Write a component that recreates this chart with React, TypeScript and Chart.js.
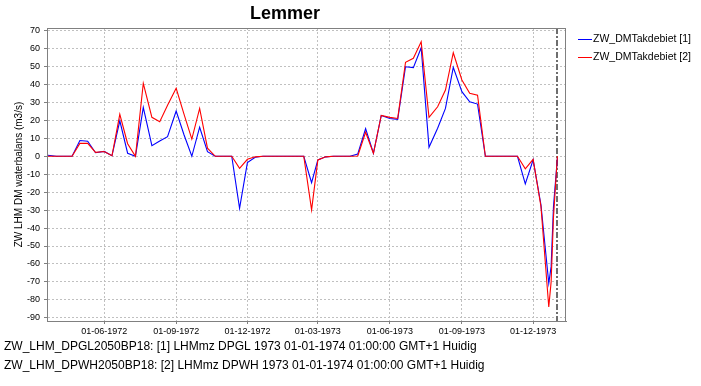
import React, { useEffect, useRef } from "react";
import { Chart, registerables } from "chart.js";

Chart.register(...registerables);

const TITLE = "Lemmer";
const Y_TITLE = "ZW LHM DM waterbalans (m3/s)";
const SERIES_NAMES = ["ZW_DMTakdebiet [1]", "ZW_DMTakdebiet [2]"];
const SERIES_COLORS = ["#0000ff", "#ff0000"];
const FOOTNOTES = [
  "ZW_LHM_DPGL2050BP18: [1] LHMmz DPGL 1973 01-01-1974 01:00:00 GMT+1 Huidig",
  "ZW_LHM_DPWH2050BP18: [2] LHMmz DPWH 1973 01-01-1974 01:00:00 GMT+1 Huidig",
];

const DATES = [
  "1972-03-21", "1972-04-01", "1972-04-11", "1972-04-21", "1972-05-01", "1972-05-11", "1972-05-21",
  "1972-06-01", "1972-06-11", "1972-06-21", "1972-07-01", "1972-07-11", "1972-07-21",
  "1972-08-01", "1972-08-11", "1972-08-21", "1972-09-01", "1972-09-11", "1972-09-21",
  "1972-10-01", "1972-10-11", "1972-10-21", "1972-11-01", "1972-11-11", "1972-11-21",
  "1972-12-01", "1972-12-11", "1972-12-21", "1973-01-01", "1973-01-11", "1973-01-21",
  "1973-02-01", "1973-02-11", "1973-02-21", "1973-03-01", "1973-03-11", "1973-03-21",
  "1973-04-01", "1973-04-11", "1973-04-21", "1973-05-01", "1973-05-11", "1973-05-21",
  "1973-06-01", "1973-06-11", "1973-06-21", "1973-07-01", "1973-07-11", "1973-07-21",
  "1973-08-01", "1973-08-11", "1973-08-21", "1973-09-01", "1973-09-11", "1973-09-21",
  "1973-10-01", "1973-10-11", "1973-10-21", "1973-11-01", "1973-11-11", "1973-11-21",
  "1973-12-01", "1973-12-11", "1973-12-21", "1973-12-24", "1973-12-27", "1974-01-01",
];

const TAKDEBIET_1 = [
  0.6, 0, 0, 0, 8.8, 8.4, 2.0,
  2.7, 0.3, 19.8, 1.7, 0, 27.3,
  5.9, 8.5, 10.9, 25.2, 12.0, 0,
  16.2, 2.6, 0, 0, 0, -29.0,
  -3.5, -0.5, 0, 0, 0, 0,
  0, 0, -14.7, -2.0, -0.3, 0,
  0, 0, 1.3, 15.4, 1.7, 22.8,
  21.1, 20.6, 49.9, 49.4, 60.5, 5.0,
  15.6, 26.7, 49.6, 36.0, 30.4, 29.1,
  0, 0, 0, 0, 0, -15.4,
  -2.0, -27.0, -70.8, -61.5, -28.0, -1.0,
];

const TAKDEBIET_2 = [
  0, 0, 0, 0, 7.2, 7.2, 2.2,
  2.7, 0.3, 23.4, 7.0, 0, 40.7,
  21.7, 19.3, 28.5, 37.9, 23.5, 9.6,
  26.7, 4.5, 0, 0, 0, -6.7,
  -1.7, -0.3, 0, 0, 0, 0,
  0, 0, -29.9, -2.0, -0.3, 0,
  0, 0, 0.2, 13.4, 1.7, 22.8,
  21.7, 21.1, 52.4, 54.6, 63.8, 21.7,
  27.6, 36.9, 57.7, 42.5, 35.1, 34.0,
  0, 0, 0, 0, 0, -7.0,
  -1.7, -28.0, -84.0, -70.0, -34.0, 0,
];

const X_TICK_DATES = ["1972-06-01", "1972-09-01", "1972-12-01", "1973-03-01", "1973-06-01", "1973-09-01", "1973-12-01"];
const X_TICK_LABELS = ["01-06-1972", "01-09-1972", "01-12-1972", "01-03-1973", "01-06-1973", "01-09-1973", "01-12-1973"];
const Y_TICKS = [-90, -80, -70, -60, -50, -40, -30, -20, -10, 0, 10, 20, 30, 40, 50, 60, 70];
const X_MIN_DATE = "1972-03-20";
const X_MAX_DATE = "1974-01-12";
const NOW_DATE = "1974-01-01";
const Y_MIN = -91.8;
const Y_MAX = 71.5;

const FONT = "'Liberation Sans', Arial, sans-serif";
const W = 701;
const H = 386;

const DAY_MS = 86400000;
const ORIGIN = Date.UTC(1972, 5, 1);
function dayNum(s: string): number {
  const [y, m, d] = s.split("-").map(Number);
  return (Date.UTC(y, m - 1, d) - ORIGIN) / DAY_MS;
}

const decorPlugin = {
  id: "decor",
  beforeDatasetsDraw(chart: any) {
    const { ctx, chartArea: a, scales } = chart;
    const x = Math.round(scales.x.getPixelForValue(dayNum(NOW_DATE)));
    ctx.save();
    ctx.strokeStyle = "#6e6e6e";
    ctx.lineWidth = 2;
    ctx.setLineDash([6, 2, 2, 2]);
    ctx.beginPath();
    ctx.moveTo(x, a.top);
    ctx.lineTo(x, a.bottom);
    ctx.stroke();
    ctx.restore();
  },
  afterDraw(chart: any) {
    const { ctx, chartArea: a } = chart;
    ctx.save();
    // plot outline
    ctx.strokeStyle = "#808080";
    ctx.lineWidth = 1;
    ctx.setLineDash([]);
    ctx.strokeRect(Math.round(a.left) + 0.5, Math.round(a.top) + 0.5, Math.round(a.right - a.left) - 1, Math.round(a.bottom - a.top));
    // title
    ctx.fillStyle = "#000";
    ctx.font = `bold 18px ${FONT}`;
    ctx.textAlign = "center";
    ctx.textBaseline = "alphabetic";
    ctx.fillText(TITLE, 285, 19);
    // legend
    ctx.font = `10.5px ${FONT}`;
    ctx.textAlign = "left";
    ctx.textBaseline = "middle";
    SERIES_NAMES.forEach((name, i) => {
      const y = 39 + i * 18;
      ctx.strokeStyle = SERIES_COLORS[i];
      ctx.beginPath();
      ctx.moveTo(578, y + 0.5);
      ctx.lineTo(592, y + 0.5);
      ctx.stroke();
      ctx.fillStyle = "#000";
      ctx.fillText(name, 593, y + 0.5);
    });
    // footnotes
    ctx.font = `12px ${FONT}`;
    ctx.textBaseline = "alphabetic";
    FOOTNOTES.forEach((t, i) => {
      ctx.fillText(t, 4, 350 + i * 19);
    });
    ctx.restore();
  },
};

export default function App() {
  const ref = useRef<HTMLCanvasElement | null>(null);

  useEffect(() => {
    if (!ref.current) return;
    Chart.defaults.font.family = FONT;
    const chart = new Chart(ref.current, {
      type: "line",
      data: {
        datasets: [
          {
            label: SERIES_NAMES[0],
            data: DATES.map((d, i) => ({ x: dayNum(d), y: TAKDEBIET_1[i] })),
            borderColor: SERIES_COLORS[0],
            borderWidth: 1.1,
            pointRadius: 0,
            tension: 0,
            fill: false,
            order: 1,
          },
          {
            label: SERIES_NAMES[1],
            data: DATES.map((d, i) => ({ x: dayNum(d), y: TAKDEBIET_2[i] })),
            borderColor: SERIES_COLORS[1],
            borderWidth: 1.1,
            pointRadius: 0,
            tension: 0,
            fill: false,
            order: 0,
          },
        ],
      },
      options: {
        animation: false,
        responsive: false,
        devicePixelRatio: 1,
        events: [],
        layout: { padding: { top: 28, right: 135, bottom: 0, left: 0 } },
        plugins: {
          legend: { display: false },
          tooltip: { enabled: false },
          title: { display: false },
        },
        scales: {
          x: {
            type: "linear",
            min: dayNum(X_MIN_DATE),
            max: dayNum(X_MAX_DATE),
            afterFit: (s: any) => {
              s.height = 65;
            },
            afterBuildTicks: (s: any) => {
              s.ticks = X_TICK_DATES.map((d) => ({ value: dayNum(d) }));
            },
            ticks: {
              autoSkip: false,
              maxRotation: 0,
              padding: 2,
              color: "#000",
              font: { size: 9, family: FONT },
              callback: (_v: any, i: number) => X_TICK_LABELS[i],
            },
            grid: { color: "#c0c0c0", tickColor: "#808080", tickLength: 3, tickBorderDash: [] },
            border: { display: true, color: "#808080", width: 1, dash: [2, 2] },
          },
          y: {
            type: "linear",
            min: Y_MIN,
            max: Y_MAX,
            afterFit: (s: any) => {
              s.width = 47;
            },
            afterBuildTicks: (s: any) => {
              s.ticks = Y_TICKS.map((v) => ({ value: v }));
            },
            ticks: {
              padding: 4,
              color: "#000",
              font: { size: 9, family: FONT },
              callback: (v: any) => String(v),
            },
            grid: { color: "#c0c0c0", tickColor: "#808080", tickLength: 3, tickBorderDash: [] },
            border: { display: true, color: "#808080", width: 1, dash: [2, 2] },
            title: {
              display: true,
              text: Y_TITLE,
              color: "#000",
              font: { size: 10, family: FONT },
              padding: { top: 13, bottom: 0 },
            },
          },
        },
      },
      plugins: [decorPlugin],
    });
    return () => chart.destroy();
  }, []);

  return (
    <div style={{ position: "fixed", left: 0, top: 0, width: W, height: H, background: "#fff" }}>
      <canvas ref={ref} width={W} height={H} style={{ display: "block", width: W, height: H }} />
    </div>
  );
}
